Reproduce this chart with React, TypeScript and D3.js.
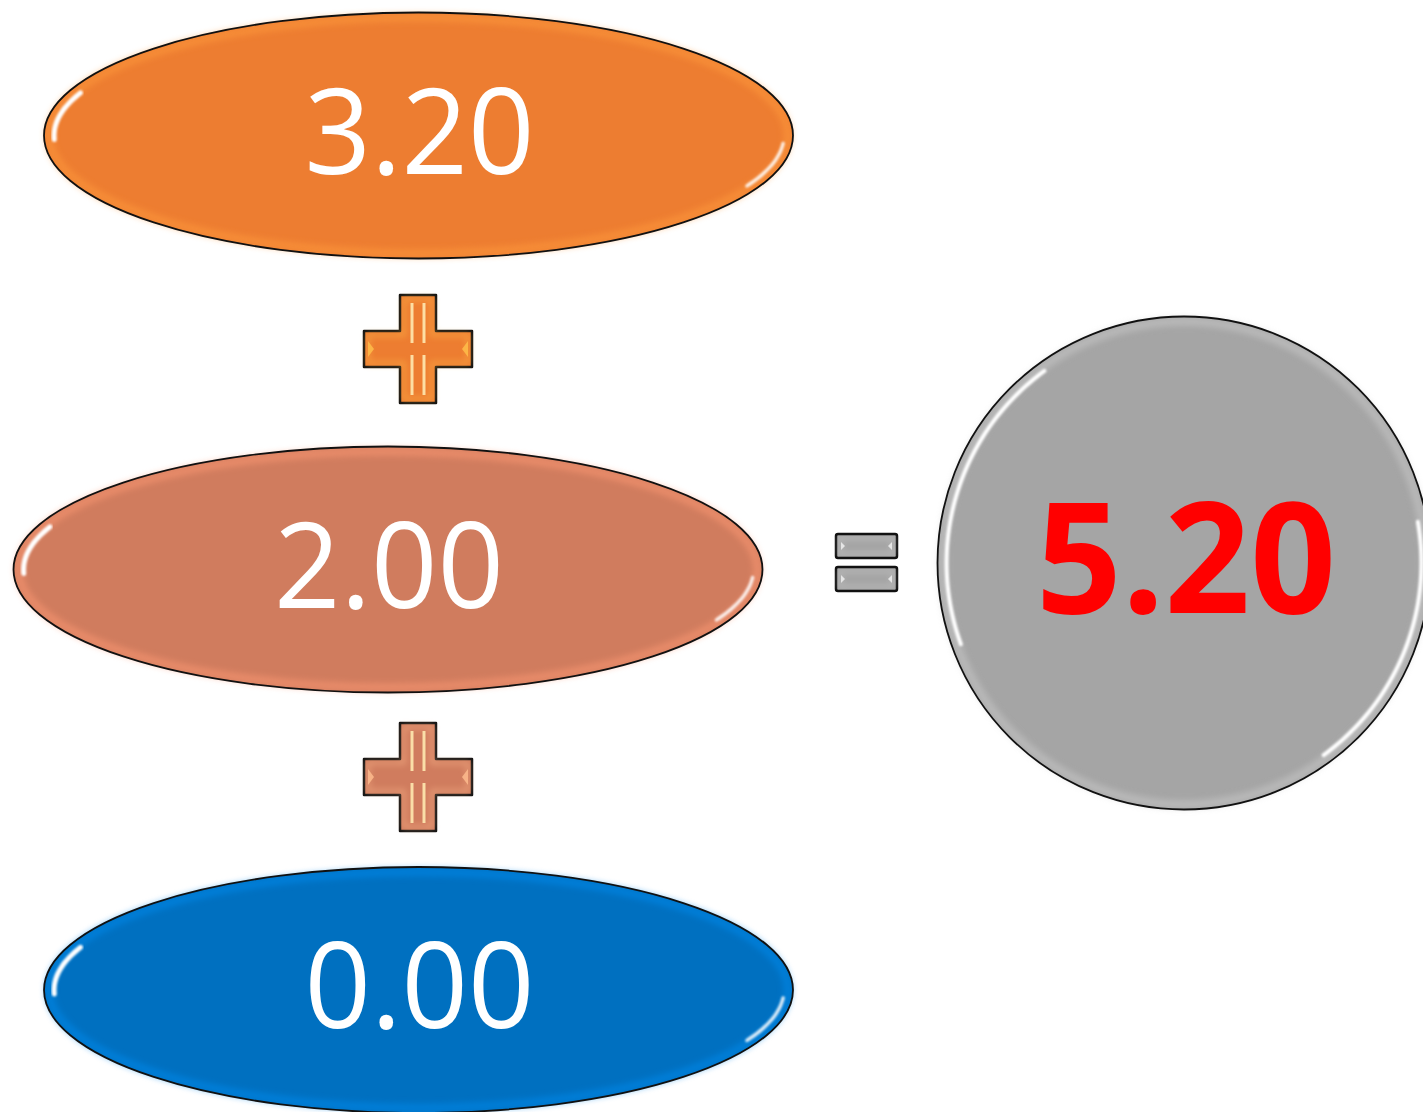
import React from 'react'
import * as d3 from 'd3'

// values shown in the three ovals, summed in the circle
const values = [3.2, 2.0, 0.0]
const fills = ['#ED7D31', '#D07C5E', '#0070C0']
const total = d3.sum(values)

const width = 1423
const height = 1112

// row positions of the ovals
const rowY = d3.scaleLinear().domain([0, 1, 2]).range([135.5, 569.5, 990])
const rowX = d3.scaleLinear().domain([0, 1, 2]).range([418.5, 388, 418.5])
const rx = 374.5
const ry = 123

const arcLine = d3
  .line<[number, number]>()
  .curve(d3.curveBasis)

const ellipseArc = (cx: number, cy: number, ax: number, ay: number, a0: number, a1: number) =>
  arcLine(
    d3.range(a0, a1 + 0.5, 2).map(a => {
      const t = (a * Math.PI) / 180
      return [cx + ax * Math.cos(t), cy + ay * Math.sin(t)] as [number, number]
    }),
  ) || ''

const crossPath = (cx: number, cy: number, h: number, w: number) => {
  const p = d3.path()
  p.moveTo(cx - w, cy - h)
  p.lineTo(cx + w, cy - h)
  p.lineTo(cx + w, cy - w)
  p.lineTo(cx + h, cy - w)
  p.lineTo(cx + h, cy + w)
  p.lineTo(cx + w, cy + w)
  p.lineTo(cx + w, cy + h)
  p.lineTo(cx - w, cy + h)
  p.lineTo(cx - w, cy + w)
  p.lineTo(cx - h, cy + w)
  p.lineTo(cx - h, cy - w)
  p.lineTo(cx - w, cy - w)
  p.closePath()
  return p.toString()
}

const Oval: React.FunctionComponent<{ i: number }> = ({ i }) => {
  const cx = rowX(i)
  const cy = rowY(i)
  const base = fills[i]
  const light = d3.color(base)!.brighter(0.6).formatHex()
  return (
    <g>
      <ellipse cx={cx} cy={cy} rx={rx} ry={ry} fill={base} />
      <ellipse
        cx={cx}
        cy={cy}
        rx={rx - 5}
        ry={ry - 5}
        fill="none"
        stroke={light}
        strokeWidth={8}
        opacity={0.55}
        filter="url(#soft)"
      />
      <path d={ellipseArc(cx, cy, rx - 10, ry - 9, 178, 202)} fill="none" stroke="#fff" strokeWidth={5} strokeLinecap="round" filter="url(#glint)" />
      <path d={ellipseArc(cx, cy, rx - 9, ry - 8, 4, 26)} fill="none" stroke="#fff" strokeWidth={3.5} strokeLinecap="round" opacity={0.85} filter="url(#glint)" />
      <ellipse cx={cx} cy={cy} rx={rx} ry={ry} fill="none" stroke="#111" strokeWidth={1.8} />
      <text
        x={cx + 1}
        y={cy + 38}
        textAnchor="middle"
        fontFamily="'Open Sans', sans-serif"
        fontSize={119}
        fill="#fff"
        textLength={230}
        lengthAdjust="spacingAndGlyphs"
      >
        {values[i].toFixed(2)}
      </text>
    </g>
  )
}

const Plus: React.FunctionComponent<{ cx: number; cy: number; color: string }> = ({ cx, cy, color }) => {
  const light = d3.color(color)!.brighter(1.2).formatHex()
  const h = 54
  const w = 18
  return (
    <g>
      <path d={crossPath(cx, cy, h, w)} fill={color} stroke="#111" strokeWidth={2.5} strokeLinejoin="round" />
      <path d={crossPath(cx, cy, h - 4, w - 4)} fill="none" stroke={light} strokeWidth={3} opacity={0.6} filter="url(#soft)" />
      {[-6, 6].map(dx => (
        <g key={dx}>
          <line x1={cx + dx} x2={cx + dx} y1={cy - h + 8} y2={cy - 6} stroke="#FFE9B0" strokeWidth={3} opacity={0.9} />
          <line x1={cx + dx} x2={cx + dx} y1={cy + 6} y2={cy + h - 8} stroke="#FFE9B0" strokeWidth={3} opacity={0.9} />
        </g>
      ))}
      <path d={`M${cx - h + 4},${cy - 8}L${cx - h + 10},${cy}L${cx - h + 4},${cy + 8}Z`} fill={light} opacity={0.8} />
      <path d={`M${cx + h - 4},${cy - 8}L${cx + h - 10},${cy}L${cx + h - 4},${cy + 8}Z`} fill={light} opacity={0.8} />
    </g>
  )
}

const EqualBar: React.FunctionComponent<{ y: number }> = ({ y }) => (
  <g>
    <rect x={836} y={y} width={61} height={24} rx={2} fill="#A5A5A5" stroke="#111" strokeWidth={2.5} />
    <rect x={840} y={y + 4} width={53} height={16} fill="none" stroke="#D8D8D8" strokeWidth={2} opacity={0.7} filter="url(#soft)" />
    <path d={`M${841},${y + 8}L${845},${y + 12}L${841},${y + 16}Z`} fill="#E5E5E5" />
    <path d={`M${892},${y + 8}L${888},${y + 12}L${892},${y + 16}Z`} fill="#E5E5E5" />
  </g>
)

const App: React.FunctionComponent = () => {
  const ccx = 1184
  const ccy = 563
  const cr = 246.5
  const circleArc = (a0: number, a1: number) => ellipseArc(ccx, ccy, cr - 9, cr - 9, a0, a1)
  return (
    <svg
      width={width}
      height={height}
      style={{ position: 'absolute', left: 0, top: 0, display: 'block', background: '#fff' }}
    >
      <defs>
        <filter id="soft" x="-10%" y="-10%" width="120%" height="120%">
          <feGaussianBlur stdDeviation={3} />
        </filter>
        <filter id="glint" x="-10%" y="-10%" width="120%" height="120%">
          <feGaussianBlur stdDeviation={1.3} />
        </filter>
      </defs>

      {values.map((_, i) => (
        <Oval key={i} i={i} />
      ))}

      <Plus cx={418} cy={349} color={fills[0]} />
      <Plus cx={418} cy={777} color={fills[1]} />

      <EqualBar y={534} />
      <EqualBar y={567} />

      <g>
        <circle cx={ccx} cy={ccy} r={cr} fill="#A5A5A5" />
        <circle cx={ccx} cy={ccy} r={cr - 5} fill="none" stroke="#C8C8C8" strokeWidth={8} opacity={0.6} filter="url(#soft)" />
        <path d={circleArc(160, 235)} fill="none" stroke="#fff" strokeWidth={4} strokeLinecap="round" filter="url(#glint)" />
        <path d={circleArc(-10, 55)} fill="none" stroke="#fff" strokeWidth={4} strokeLinecap="round" filter="url(#glint)" />
        <circle cx={ccx} cy={ccy} r={cr} fill="none" stroke="#111" strokeWidth={1.8} />
        <text
          x={1186}
          y={613}
          textAnchor="middle"
          fontFamily="'Open Sans', sans-serif"
          fontWeight={700}
          fontSize={155}
          fill="#FF0000"
          textLength={300}
          lengthAdjust="spacingAndGlyphs"
        >
          {total.toFixed(2)}
        </text>
      </g>
    </svg>
  )
}

export default App
